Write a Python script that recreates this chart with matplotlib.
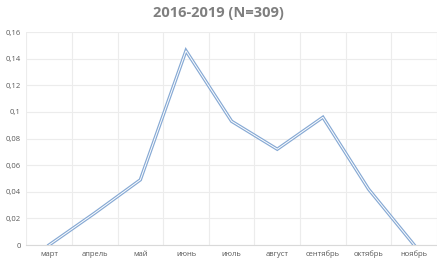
import numpy as np
import matplotlib.pyplot as plt

months = ["март", "апрель", "май", "июнь", "июль", "август", "сентябрь", "октябрь", "ноябрь"]
values = [0, 0.024, 0.049, 0.146, 0.093, 0.072, 0.096, 0.042, 0]
yticks = [0, 0.02, 0.04, 0.06, 0.08, 0.1, 0.12, 0.14, 0.16]
ylabels = ["0", "0,02", "0,04", "0,06", "0,08", "0,1", "0,12", "0,14", "0,16"]

plt.rcParams['font.family'] = ['Open Sans', 'DejaVu Sans']

fig = plt.figure(figsize=(4.37, 2.59), dpi=100)
ax = fig.add_axes([0.06, 0.054, 0.94, 0.822])

x = np.arange(len(months))
ax.plot(x, values, color='#86a9d4', lw=2.4, solid_joinstyle='miter', zorder=3)
ax.plot(x, values, color='white', lw=0.7, solid_joinstyle='miter', zorder=4)

ax.set_xlim(-0.5, len(months) - 0.5)
ax.set_ylim(0, 0.16)
ax.set_xticks(x)
ax.set_xticklabels(months, fontsize=5.5, color='#595959')
ax.set_yticks(yticks)
ax.set_yticklabels(ylabels, fontsize=5.5, color='#595959')
ax.set_xticks(np.arange(-0.5, len(months)), minor=True)
ax.tick_params(which='both', length=0, pad=4)
ax.grid(True, axis='y', color='#ececec', lw=0.8)
ax.grid(True, axis='x', which='minor', color='#ececec', lw=0.8)
for s in ['top', 'right', 'left']:
    ax.spines[s].set_visible(False)
ax.spines['bottom'].set_color('#d9d9d9')

fig.suptitle("2016-2019 (N=309)", y=0.975, fontsize=10.5, fontweight='bold', color='#7f7f7f')

fig.savefig("out.png", dpi=100)
